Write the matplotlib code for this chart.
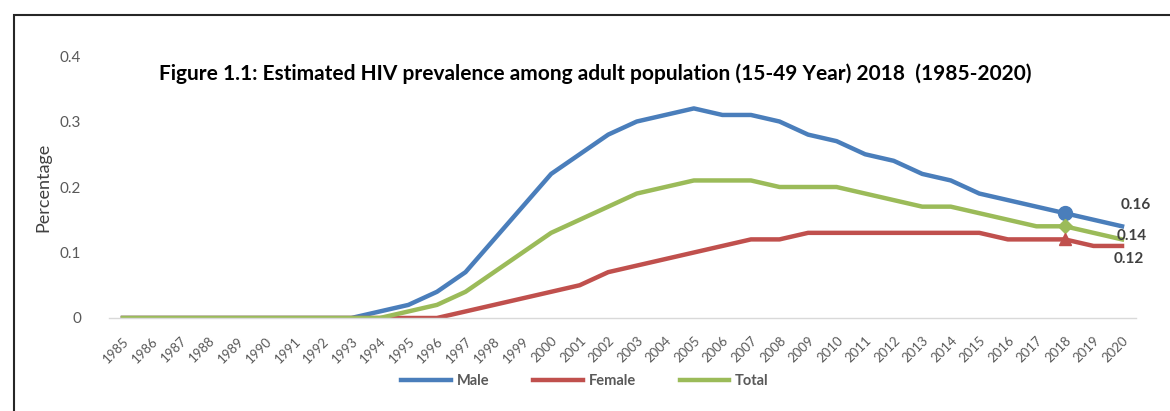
import matplotlib.pyplot as plt
from matplotlib.patches import Rectangle
import numpy as np

years = list(range(1985, 2021))

male = [0, 0, 0, 0, 0, 0, 0, 0, 0, 0.01, 0.02, 0.04, 0.07, 0.12, 0.17, 0.22,
        0.25, 0.28, 0.30, 0.31, 0.32, 0.31, 0.31, 0.30, 0.28, 0.27, 0.25, 0.24,
        0.22, 0.21, 0.19, 0.18, 0.17, 0.16, 0.15, 0.14]
female = [0, 0, 0, 0, 0, 0, 0, 0, 0, 0, 0, 0, 0.01, 0.02, 0.03, 0.04,
          0.05, 0.07, 0.08, 0.09, 0.10, 0.11, 0.12, 0.12, 0.13, 0.13, 0.13, 0.13,
          0.13, 0.13, 0.13, 0.12, 0.12, 0.12, 0.11, 0.11]
total = [0, 0, 0, 0, 0, 0, 0, 0, 0, 0, 0.01, 0.02, 0.04, 0.07, 0.10, 0.13,
         0.15, 0.17, 0.19, 0.20, 0.21, 0.21, 0.21, 0.20, 0.20, 0.20, 0.19, 0.18,
         0.17, 0.17, 0.16, 0.15, 0.14, 0.14, 0.13, 0.12]

yticks = [0, 0.1, 0.2, 0.3, 0.4]
ytick_labels = ["0", "0.1", "0.2", "0.3", "0.4"]
mark_year = 2018

font = "Lato"
gray = "#595959"

fig = plt.figure(figsize=(11.7, 4.11), dpi=100)
ax = fig.add_axes([0.0929, 0.2263, 0.8783, 0.6374])

# outer chart border (only left and top visible in the crop)
fig.patches.append(Rectangle((14 / 1170, -0.1), 1.2, 1 - 15 / 411 + 0.1,
                             transform=fig.transFigure, fill=False,
                             edgecolor="#262626", linewidth=1.5))

ax.plot(years, male, color="#4A7EBB", lw=3.2, label="Male", solid_joinstyle="round")
ax.plot(years, female, color="#C0504D", lw=3.2, label="Female", solid_joinstyle="round")
ax.plot(years, total, color="#9BBB59", lw=3.2, label="Total", solid_joinstyle="round")

i = years.index(mark_year)
ax.plot(years[i], male[i], "o", color="#4A7EBB", ms=10)
ax.plot(years[i], total[i], "D", color="#9BBB59", ms=7)
ax.plot(years[i], female[i], "^", color="#C0504D", ms=9)

for val, dx, dy in [(male[i], 51, 6), (total[i], 48, -7), (female[i], 46, -14)]:
    ax.annotate(f"{val:.2f}", (years[i], val), xytext=(dx, dy),
                textcoords="offset points", ha="center", va="center",
                fontsize=11, fontweight="bold", color="#404040", family=font)

ax.set_xlim(1984.5, 2020.5)
ax.set_ylim(0, 0.4)
ax.set_xticks(years)
ax.set_xticklabels([str(y) for y in years], rotation=45, ha="right",
                   rotation_mode="anchor", fontsize=9.5, color=gray, family=font)
ax.set_yticks(yticks)
ax.set_yticklabels(ytick_labels, fontsize=11, color=gray, family=font)
ax.tick_params(axis="both", length=0, pad=12)
ax.tick_params(axis="y", pad=20)
for s in ["top", "right", "left"]:
    ax.spines[s].set_visible(False)
ax.spines["bottom"].set_color("#D9D9D9")
ax.spines["bottom"].set_linewidth(1)

ax.set_ylabel("Percentage", fontsize=13, color="#404040", family=font, labelpad=6)

fig.text(0.509, 0.82, "Figure 1.1: Estimated HIV prevalence among adult population (15-49 Year) 2018  (1985-2020)",
         ha="center", va="center", fontsize=15, fontweight="bold", family=font)

fig.legend(loc="center", bbox_to_anchor=(0.5, 0.073), ncol=3, frameon=False,
           handlelength=3.4, columnspacing=3.0, handletextpad=0.4,
           prop={"family": font, "weight": "bold", "size": 10.5}, labelcolor=gray)

plt.savefig("out.png", dpi=100)
